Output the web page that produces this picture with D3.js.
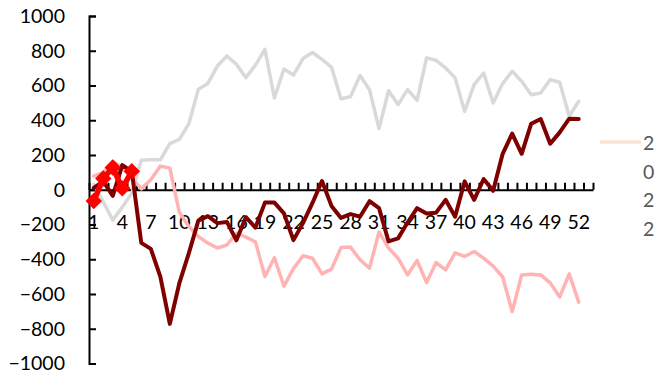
<!DOCTYPE html>
<html>
<head>
<meta charset="utf-8">
<script src="https://cdn.jsdelivr.net/npm/d3@7"></script>
<style>
  html, body { margin: 0; padding: 0; background: #ffffff; }
  svg { display: block; }
  text { font-family: Lato, "Open Sans", sans-serif; fill: #000; }
</style>
</head>
<body>
<svg id="chart" width="672" height="374"></svg>
<script>
// Week numbers on the category axis (53 slots, labelled every third)
const categories = d3.range(1, 54);
const xTickLabels = [1, 4, 7, 10, 13, 16, 19, 22, 25, 28, 31, 34, 37, 40, 43, 46, 49, 52];
const yTickValues = [-1000, -800, -600, -400, -200, 0, 200, 400, 600, 800, 1000];

// Weekly series values
const greySeries = [30, -70, -175, -100, -20, 170, 172, 172, 265, 290, 380, 578, 612, 712, 770, 722, 645, 717, 808, 528,
  695, 660, 755, 790, 750, 705, 524, 536, 657, 576, 352, 570, 490, 576, 515, 759, 745, 701, 644, 451,
  605, 672, 500, 611, 682, 624, 547, 557, 634, 619, 423, 509];
const pinkSeries = [79, 100, 163, 130, 68, 5, 58, 136, 125, -130, -211, -269, -307, -335, -318, -250, -272, -300, -499, -391,
  -555, -454, -380, -394, -484, -457, -333, -330, -403, -451, -243, -336, -394, -490, -407, -534, -419, -461, -363, -384,
  -355, -394, -440, -502, -701, -491, -486, -490, -536, -617, -484, -647];
const darkRedSeries = [10, 48, -35, 142, 106, -306, -340, -500, -772, -538, -365, -178, -152, -192, -185, -291, -158, -218, -74, -74,
  -136, -290, -192, -76, 50, -93, -162, -140, -155, -66, -106, -297, -280, -189, -106, -137, -132, -58, -155, 48,
  -58, 62, -6, 207, 323, 207, 380, 407, 265, 330, 409, 407];
const redSeries = [-65, 65, 128, 8, 107];
const legendName = "2022";

const svg = d3.select("#chart");

const x = d3.scaleBand().domain(categories).range([89, 593]);
const xEdge = d3.scaleLinear().domain([0, categories.length]).range([89, 593]);
const y = d3.scaleLinear().domain([-1000, 1000]).range([363.5, 16]);

const cx = d => x(d) + x.bandwidth() / 2;

// Value axis with inward ticks
const yAxis = svg.append("g")
  .attr("transform", `translate(${89},0)`)
  .call(d3.axisLeft(y).tickValues(yTickValues).tickSize(-7).tickPadding(24).tickFormat(d3.format("d")));
yAxis.select(".domain").attr("stroke", "#000").attr("stroke-width", 2);
yAxis.selectAll(".tick line").attr("stroke", "#000").attr("stroke-width", 2);
yAxis.selectAll(".tick text").style("font-size", "19.5px").style("font-family", "Lato, 'Open Sans', sans-serif");

// Category axis crossing at zero: tick marks between categories
const xTicks = svg.append("g")
  .attr("transform", `translate(0,${y(0)})`)
  .call(d3.axisBottom(xEdge).tickValues(d3.range(0, categories.length + 1)).tickSize(-7).tickSizeOuter(0).tickFormat(""));
xTicks.select(".domain").attr("stroke", "#000").attr("stroke-width", 2);
xTicks.selectAll(".tick line").attr("stroke", "#000").attr("stroke-width", 2);

// Category labels
const xLabels = svg.append("g")
  .attr("transform", `translate(0,${y(0)})`)
  .call(d3.axisBottom(x).tickValues(xTickLabels).tickSize(0).tickPadding(25));
xLabels.select(".domain").remove();
xLabels.selectAll(".tick text").style("font-size", "19.5px").style("font-family", "Lato, 'Open Sans', sans-serif");

const line = d3.line()
  .x((d, i) => cx(categories[i]))
  .y(d => y(d));

function drawSeries(values, color, width) {
  svg.append("path")
    .datum(values)
    .attr("fill", "none")
    .attr("stroke", color)
    .attr("stroke-width", width)
    .attr("stroke-linejoin", "round")
    .attr("stroke-linecap", "round")
    .attr("d", line);
}

drawSeries(greySeries, "#d9d9d9", 3.5);
drawSeries(pinkSeries, "#ffb3b3", 3.5);
drawSeries(darkRedSeries, "#7f0000", 4);
drawSeries(redSeries, "#ff0000", 5.5);

// Diamond markers on the red series
const diamond = d3.symbol().type(d3.symbolSquare).size(135);
svg.append("g").selectAll("path")
  .data(redSeries)
  .join("path")
  .attr("d", diamond)
  .attr("transform", (d, i) => `translate(${cx(categories[i])},${y(d)}) rotate(45)`)
  .attr("fill", "#ff0000");

// Legend (narrow, so the name wraps one character per line)
const legend = svg.append("g");
legend.append("line")
  .attr("x1", 600).attr("x2", 641)
  .attr("y1", 142).attr("y2", 142)
  .attr("stroke", "#fbe3d4")
  .attr("stroke-width", 3.5);
legend.selectAll("text")
  .data(legendName.split(""))
  .join("text")
  .attr("x", 643)
  .attr("y", (d, i) => 143 + i * 28.6)
  .attr("dy", "0.36em")
  .style("font-size", "19.5px")
  .style("fill", "#595959")
  .text(d => d);
</script>
</body>
</html>
